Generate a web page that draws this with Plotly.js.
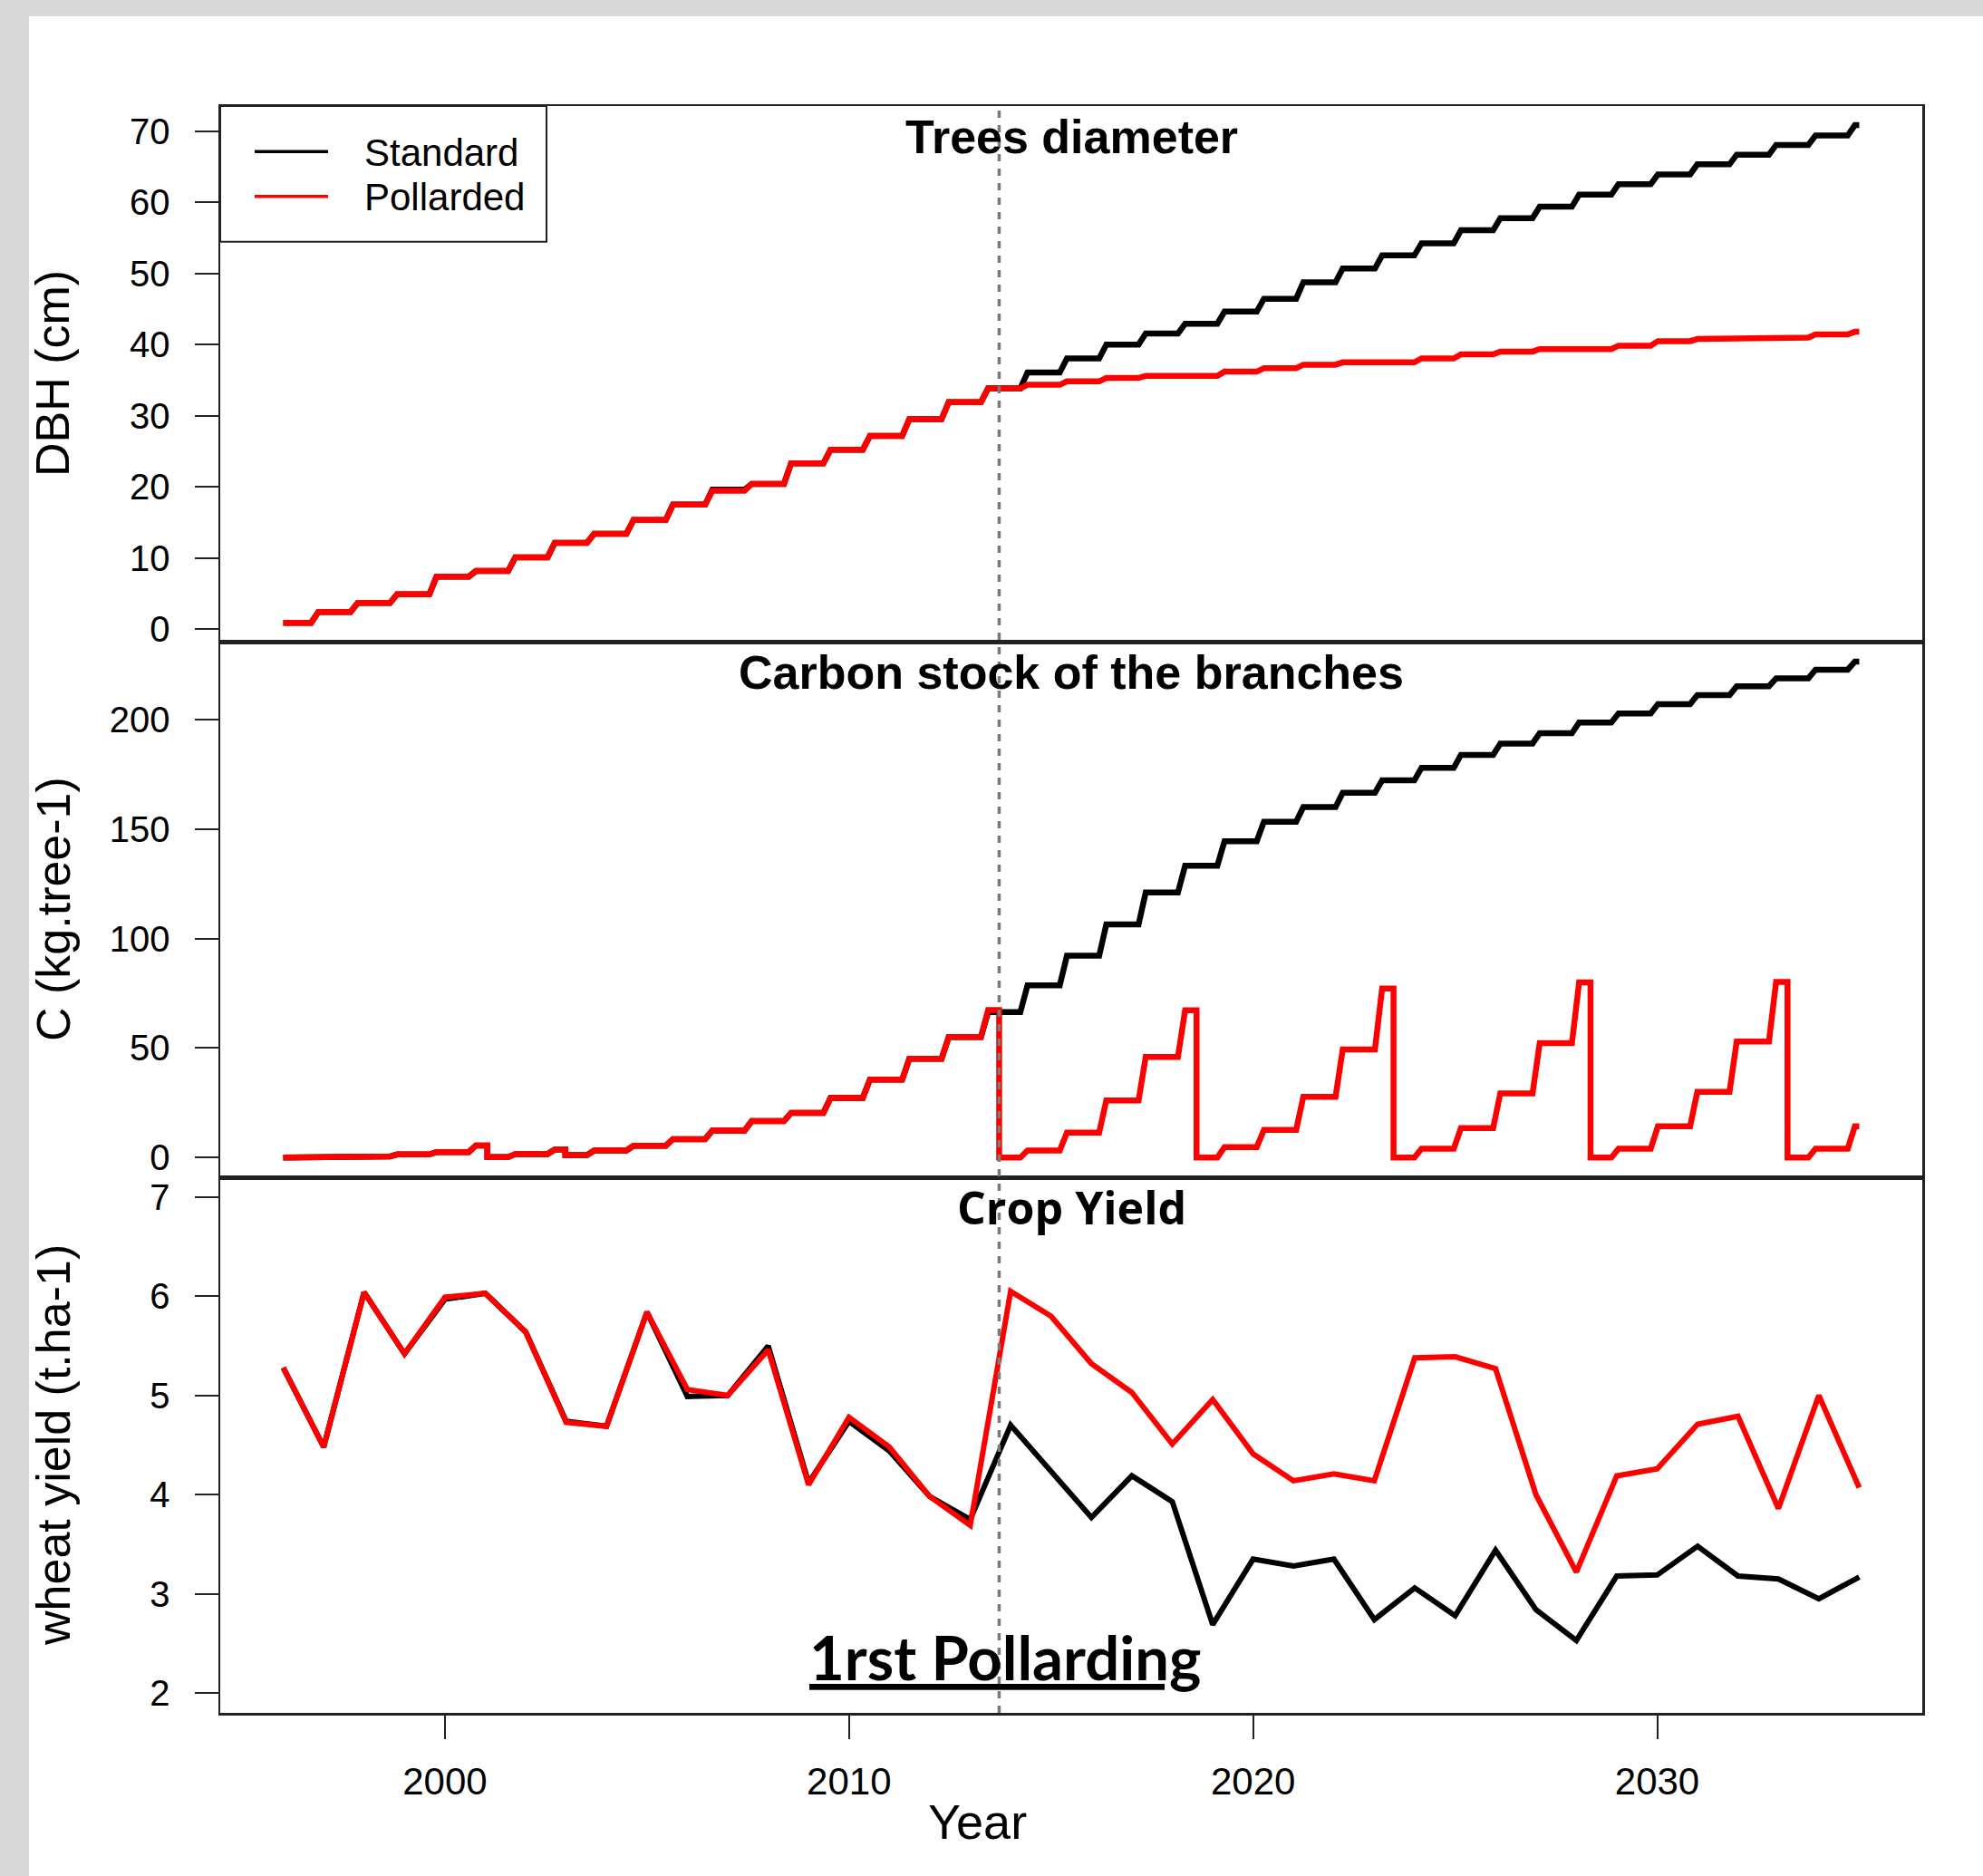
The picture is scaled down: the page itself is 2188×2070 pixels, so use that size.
<!DOCTYPE html>
<html><head><meta charset="utf-8">
<script src="https://cdn.plot.ly/plotly-3.0.1.min.js"></script>
<style>
html,body{margin:0;padding:0;background:#ffffff;width:2188px;height:2070px;overflow:hidden;}
#chart{position:absolute;left:0;top:0;width:2188px;height:2070px;}
</style></head><body><div id="chart"></div>
<script>
// ---------------- data ----------------
const cropYears = [1996,1997,1998,1999,2000,2001,2002,2003,2004,2005,2006,2007,2008,2009,2010,2011,2012,2013,2014,2015,
                   2016,2017,2018,2019,2020,2021,2022,2023,2024,2025,2026,2027,2028,2029,2030,2031,2032,2033,2034,2035];
const yieldStandard  = [5.28,4.48,6.04,5.42,5.97,6.03,5.64,4.74,4.69,5.84, 4.99,5.00,5.50,4.12,4.74,4.44,3.98,3.75,4.70,4.23,
                        3.77,4.19,3.93,2.69,3.35,3.28,3.35,2.74,3.06,2.78, 3.44,2.84,2.53,3.18,3.19,3.48,3.18,3.15,2.95,3.17];
const yieldPollarded = [5.28,4.48,6.04,5.42,5.99,6.03,5.64,4.73,4.69,5.84, 5.06,5.00,5.46,4.10,4.78,4.48,3.98,3.69,6.05,5.80,
                        5.32,5.03,4.51,4.96,4.41,4.14,4.21,4.14,5.38,5.39, 5.27,4.00,3.22,4.19,4.26,4.71,4.79,3.86,5.00,4.07];

// tree model output: 40 simulated seasons drawn over 1996-2035; one growth step per season
const seasonFirstYear = 1996, seasonLastYear = 2035, nSeasons = 40;
const growthStart = 0.708, growthEnd = 0.89;      // fraction of a season in which the step happens
const dbhInitial = 0.87;
const dbhStandard  = [2.39,3.65,4.88,7.37,8.14,10.06,12.10,13.38,15.33,17.48, 19.60,20.41,23.30,25.20,27.15,29.50,31.89,33.84,36.09,38.05,
                      40.00,41.56,42.93,44.64,46.45,48.75,50.70,52.55,54.26,56.08, 57.79,59.40,61.10,62.57,63.94,65.36,66.72,68.09,69.41,70.87];
const dbhPollarded = [2.39,3.65,4.88,7.37,8.14,10.06,12.10,13.38,15.33,17.48, 19.43,20.41,23.30,25.20,27.15,29.50,31.89,33.84,34.34,34.82,
                      35.31,35.60,35.60,36.19,36.67,37.17,37.50,37.50,38.05,38.63, 39.02,39.37,39.37,39.85,40.49,40.78,40.98,40.98,41.42,41.80];
const carbonInitial = 0.0;
const carbonStandard  = [0.1,0.5,1.4,2.5,5.5,1.6,3.6,3.2,5.4,8.4, 12.3,16.6,20.4,27.2,35.6,45.1,55.0,66.4,78.6,92.1,
                         106.4,121.0,133.2,144.4,153.3,160.0,166.5,172.2,177.9,183.8, 189.0,193.7,198.6,202.7,207.0,211.1,215.1,218.7,222.7,226.4];
const carbonPollarded = [0.1,0.5,1.4,2.5,5.5,1.6,3.6,3.2,5.4,8.4, 12.3,16.6,20.4,27.2,35.6,45.1,55.0,67.3,3.2,11.4,
                         26.1,45.9,67.2,4.8,12.6,27.7,49.3,77.2,4.0,13.4, 29.3,52.2,79.9,4.0,14.3,30.0,53.0,80.2,4.0,14.3];
// cutting events (season time) and branch carbon left just after the cut
const cutTimesStandard  = [5.18, 7.16];
const cutValuesStandard = [0.2, 1.1];
const cutTimesPollarded  = [5.18, 7.16, 18.17, 23.18, 28.18, 33.18, 38.18];
const cutValuesPollarded = [0.2, 1.1, 0, 0, 0, 0, 0];
const firstPollarding = 18.17;

const xTicks = [2000, 2010, 2020, 2030];
const dbhTicks = [0,10,20,30,40,50,60,70];
const carbonTicks = [0,50,100,150,200];
const yieldTicks = [2,3,4,5,6,7];

// ---------------- helpers ----------------
function seasonToYear(t){ return seasonFirstYear + t*(seasonLastYear-seasonFirstYear)/nSeasons; }
function buildSteps(initial, after, cutT, cutV){
  const xs=[seasonToYear(0)], ys=[initial];
  let cur=initial, ci=0;
  for(let k=0;k<nSeasons;k++){
    while(ci<cutT.length && cutT[ci] < k+growthStart){
      xs.push(seasonToYear(cutT[ci])); ys.push(cur);
      xs.push(seasonToYear(cutT[ci])); ys.push(cutV[ci]); cur=cutV[ci]; ci++;
    }
    xs.push(seasonToYear(k+growthStart)); ys.push(cur);
    xs.push(seasonToYear(k+growthEnd)); ys.push(after[k]); cur=after[k];
  }
  xs.push(seasonToYear(nSeasons)); ys.push(cur);
  return {x:xs, y:ys};
}
const dbhS = buildSteps(dbhInitial, dbhStandard, [], []);
const dbhP = buildSteps(dbhInitial, dbhPollarded, [], []);
const cS = buildSteps(carbonInitial, carbonStandard, cutTimesStandard, cutValuesStandard);
const cP = buildSteps(carbonInitial, carbonPollarded, cutTimesPollarded, cutValuesPollarded);

const BLACK='#000000', RED='#ff0000', LW=6.5, LW3=6;
const traces = [
  {x:dbhS.x, y:dbhS.y, xaxis:'x', yaxis:'y', mode:'lines', name:'Standard', line:{color:BLACK,width:LW}},
  {x:dbhP.x, y:dbhP.y, xaxis:'x', yaxis:'y', mode:'lines', name:'Pollarded', line:{color:RED,width:LW}},
  {x:cS.x, y:cS.y, xaxis:'x2', yaxis:'y2', mode:'lines', name:'Standard', line:{color:BLACK,width:LW}},
  {x:cP.x, y:cP.y, xaxis:'x2', yaxis:'y2', mode:'lines', name:'Pollarded', line:{color:RED,width:LW}},
  {x:cropYears, y:yieldStandard, xaxis:'x3', yaxis:'y3', mode:'lines', name:'Standard', line:{color:BLACK,width:LW3}},
  {x:cropYears, y:yieldPollarded, xaxis:'x3', yaxis:'y3', mode:'lines', name:'Pollarded', line:{color:RED,width:LW3}}
];

// ---------------- layout ----------------
const SANS='Liberation Sans, Arial, Helvetica, sans-serif';
const xRange=[1994.44, 2036.56];
const frame={showline:true, linecolor:'#222', linewidth:2.5, mirror:true, zeroline:false, showgrid:false};
const yax=(dom, anchor, range, vals)=>Object.assign({}, frame, {
  domain:dom, anchor:anchor, range:range, tickmode:'array', tickvals:vals,
  ticks:'outside', ticklen:26, tickwidth:2, tickcolor:'#222', ticklabelstandoff:19,
  tickfont:{family:SANS, size:40, color:'#000'}
});
const pxX = X => (X-243)/1878, pxY = Y => (1890-Y)/1773;

const ann=[
  {text:'Trees diameter', x:0.5, y:pxY(151), font:{family:SANS,size:52,color:'#000',weight:700}},
  {text:'Carbon stock of the branches', x:0.5, y:pxY(741.5), font:{family:SANS,size:52,color:'#000',weight:700}},
  {text:'Crop Yield', x:0.5, y:pxY(1331.5), font:{family:'Open Sans, sans-serif',size:50,color:'#000',weight:700}},
  {text:'DBH (cm)', x:pxX(58), y:pxY(412), textangle:-90, font:{family:SANS,size:52,color:'#000'}},
  {text:'C (kg.tree-1)', x:pxX(59), y:pxY(1003), textangle:-90, font:{family:SANS,size:52,color:'#000'}},
  {text:'wheat yield (t.ha-1)', x:pxX(59), y:pxY(1595), textangle:-90, font:{family:SANS,size:52,color:'#000'}},
  {text:'Year', x:pxX(1078), y:pxY(2010), font:{family:SANS,size:54,color:'#000'}},
  {text:'1rst Pollarding', x:pxX(1109), y:pxY(1828), font:{family:'Lato, sans-serif',size:67,color:'#000',weight:700,lineposition:'under'}},
  {text:'Standard', x:pxX(400), y:pxY(168.8), xanchor:'left', font:{family:SANS,size:42,color:'#000'}},
  {text:'Pollarded', x:pxX(400), y:pxY(217.5), xanchor:'left', font:{family:SANS,size:42,color:'#000'}}
].map(a=>Object.assign({xref:'paper', yref:'paper', showarrow:false, xanchor:'center', yanchor:'middle'}, a));

const shapes=[
  // grey page border strips (top and left)
  {type:'rect', xref:'paper', yref:'paper', x0:pxX(0), x1:pxX(2188), y0:pxY(18), y1:pxY(0), line:{width:0}, fillcolor:'#d9d9d9', layer:'below'},
  {type:'rect', xref:'paper', yref:'paper', x0:pxX(0), x1:pxX(32), y0:pxY(2070), y1:pxY(0), line:{width:0}, fillcolor:'#d9d9d9', layer:'below'},
  {type:'line', xref:'x3', yref:'paper', x0:seasonToYear(firstPollarding), x1:seasonToYear(firstPollarding), y0:0, y1:1,
   line:{color:'#7a7a7a', width:3.5, dash:'8px,8px'}, layer:'above'},
  {type:'rect', xref:'paper', yref:'paper', x0:0, x1:pxX(603), y0:pxY(266.7), y1:1, line:{color:'#222', width:2}, fillcolor:'#ffffff', layer:'above'},
  {type:'line', xref:'paper', yref:'paper', x0:pxX(281), x1:pxX(362), y0:pxY(167.3), y1:pxY(167.3), line:{color:BLACK, width:3.5}, layer:'above'},
  {type:'line', xref:'paper', yref:'paper', x0:pxX(281), x1:pxX(362), y0:pxY(216.7), y1:pxY(216.7), line:{color:RED, width:3.5}, layer:'above'}
];

const layout={
  width:2188, height:2070,
  margin:{l:243, r:67, t:117, b:180, pad:0},
  paper_bgcolor:'#ffffff', plot_bgcolor:'#ffffff', showlegend:false,
  xaxis: Object.assign({}, frame, {anchor:'y', range:xRange, showticklabels:false, ticks:''}),
  xaxis2:Object.assign({}, frame, {anchor:'y2', range:xRange, showticklabels:false, ticks:''}),
  xaxis3:Object.assign({}, frame, {anchor:'y3', range:xRange, tickmode:'array', tickvals:xTicks,
          ticks:'outside', ticklen:26, tickwidth:2, tickcolor:'#222', ticklabelstandoff:11,
          tickfont:{family:SANS, size:42, color:'#000'}}),
  yaxis: yax([2/3,1], 'x', [-1.79,73.56], dbhTicks),
  yaxis2:yax([1/3,2/3], 'x2', [-9.0,235.5], carbonTicks),
  yaxis3:yax([0,1/3], 'x3', [1.8,7.2], yieldTicks),
  annotations:ann, shapes:shapes
};
Plotly.newPlot('chart', traces, layout, {staticPlot:true, displayModeBar:false});
</script></body></html>
